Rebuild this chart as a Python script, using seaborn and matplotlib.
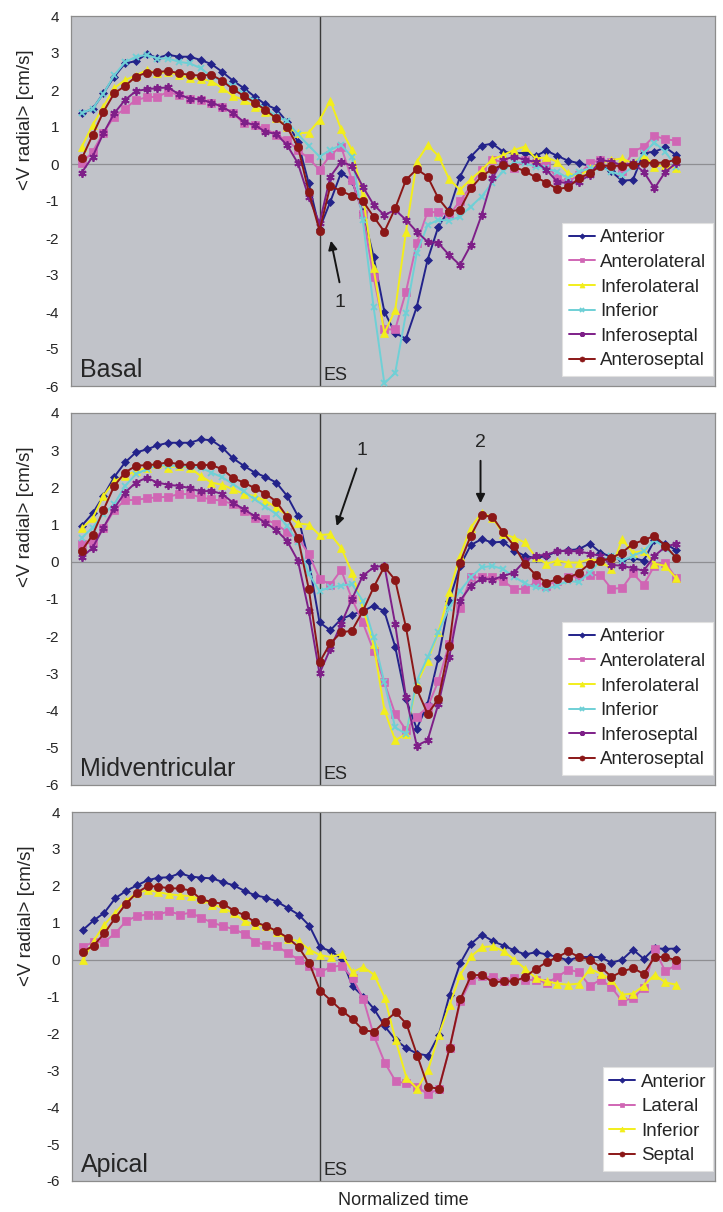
import numpy as np
import pandas as pd
import matplotlib
matplotlib.use("Agg")
import matplotlib.pyplot as plt
import seaborn as sns

# Datos (56 instantes de tiempo normalizado, ES en el indice 22)
time_idx = np.arange(56)
es_idx = 22

# --- Basal ---
basal_anterior = [1.37, 1.49, 1.91, 2.36, 2.72, 2.78, 2.97, 2.87, 2.95, 2.90, 2.90, 2.81, 2.70, 2.49, 2.25, 2.05, 1.82, 1.61, 1.48, 1.14, 0.60, -0.52,
                  -1.75, -1.02, -0.23, -0.45, -1.3, -2.5, -3.99, -4.57, -4.72, -3.86, -2.59, -1.69, -1.24, -0.34, 0.2,
                  0.5, 0.55, 0.33, 0.29, 0.30, 0.22, 0.36, 0.22, 0.09, 0.02, -0.05, -0.03, -0.2, -0.45, -0.43, 0.3, 0.33, 0.45, 0.24]
basal_anterolateral = [0.02, 0.33, 0.85, 1.28, 1.5, 1.73, 1.8, 1.82, 1.95, 1.86, 1.77, 1.73, 1.64, 1.55, 1.37, 1.1, 1.05, 0.96, 0.78, 0.65, 0.38, 0.15, -0.16,
                       0.24, 0.47, -0.43, -1.35, -3.05, -4.47, -4.47, -3.45, -2.14, -1.29, -1.31, -1.38, -1.0, -0.6, -0.16,
                       0.11, 0.06, -0.12, 0.11, 0.02, 0.0, -0.39, -0.48, -0.3, 0.02, 0.11, 0.06, -0.18, 0.33, 0.47, 0.76, 0.67, 0.63]
basal_inferolateral = [0.47, 1.05, 1.55, 2.05, 2.27, 2.39, 2.54, 2.45, 2.49, 2.41, 2.32, 2.30, 2.24, 2.05, 1.84, 1.73, 1.55, 1.41, 1.23, 1.01, 0.83, 0.85, 1.19,
                       1.71, 0.94, 0.38, -0.84, -2.82, -4.57, -3.95, -1.83, 0.06, 0.51, 0.22, -0.41, -0.7, -0.41,
                       -0.16, 0.13, 0.24, 0.38, 0.47, 0.15, 0.18, 0.06, -0.25, -0.34, -0.12, 0.02, 0.11, 0.15, 0.02, 0.24, -0.07, -0.03, -0.12]
basal_inferior = [1.37, 1.5, 1.9, 2.4, 2.75, 2.9, 2.95, 2.85, 2.85, 2.76, 2.72, 2.59, 2.36, 2.25, 2.1, 1.9, 1.7, 1.5, 1.3, 1.15, 0.8, 0.5, 0.2,
                  0.38, 0.51, 0.2, -1.51, -3.86, -5.93, -5.65, -4.04, -2.41, -1.65, -1.51, -1.53, -1.42, -1.15, -0.88,
                  -0.5, -0.2, 0.06, 0.02, -0.07, -0.12, -0.21, -0.39, -0.21, -0.12, -0.07, -0.21, -0.3, -0.07, 0.29, 0.58, 0.33, -0.07]
basal_inferoseptal = [-0.23, 0.2, 0.83, 1.37, 1.73, 1.97, 2.02, 2.05, 2.07, 1.88, 1.77, 1.75, 1.66, 1.55, 1.37, 1.14, 1.05, 0.87, 0.81, 0.51, 0.02, -0.9,
                      -1.6, -0.34, 0.06, -0.05, -0.61, -1.1, -1.38, -1.24, -1.51, -1.83, -2.1, -2.14, -2.46, -2.73, -2.19, -1.38,
                      -0.38, 0.11, 0.2, 0.11, 0.06, -0.16, -0.48, -0.52, -0.48, -0.3, 0.11, 0.06, -0.03, 0.02, -0.21, -0.66, -0.21, 0.02]
basal_anteroseptal = [0.15, 0.78, 1.41, 1.91, 2.11, 2.36, 2.47, 2.48, 2.52, 2.45, 2.41, 2.39, 2.41, 2.25, 2.02, 1.84, 1.66, 1.46, 1.23, 0.99, 0.47, -0.75, -1.8,
                      -0.59, -0.73, -0.86, -1.0, -1.42, -1.83, -1.2, -0.43, -0.14, -0.34, -0.93, -1.29, -1.23, -0.66,
                      -0.33, -0.14, -0.02, -0.08, -0.19, -0.36, -0.5, -0.68, -0.63, -0.39, -0.25, -0.05, -0.05, -0.05, -0.03, 0.03, 0.03, 0.04, 0.12]

# --- Midventricular ---
mid_anterior = [0.97, 1.3, 1.77, 2.28, 2.67, 2.94, 3.02, 3.13, 3.2, 3.2, 3.2, 3.29, 3.27, 3.07, 2.78, 2.58, 2.4, 2.28, 2.13, 1.77, 1.23, 0.03,
                -1.63, -1.84, -1.54, -1.42, -1.33, -1.18, -1.33, -2.28, -3.69, -4.49, -3.82, -2.59, -1.05, -0.11, 0.45,
                0.61, 0.52, 0.54, 0.3, 0.16, 0.1, 0.16, 0.28, 0.31, 0.34, 0.49, 0.25, 0.13, 0.06, 0.1, 0.03, 0.58, 0.49, 0.31]
mid_anterolateral = [0.47, 0.52, 0.9, 1.39, 1.66, 1.66, 1.71, 1.73, 1.75, 1.82, 1.82, 1.73, 1.68, 1.64, 1.55, 1.37, 1.19, 1.14, 1.01, 0.8, 0.65, 0.21, -0.45,
                     -0.62, -0.22, -1.0, -1.63, -2.39, -3.24, -4.09, -4.52, -4.16, -3.91, -3.2, -2.2, -1.23, -0.42,
                     -0.42, -0.42, -0.51, -0.73, -0.73, -0.55, -0.64, -0.51, -0.42, -0.38, -0.36, -0.35, -0.72, -0.71, -0.31, -0.62, -0.1, -0.02, -0.44]
mid_inferolateral = [0.9, 1.17, 1.77, 2.17, 2.31, 2.44, 2.53, 2.62, 2.53, 2.58, 2.53, 2.31, 2.13, 2.07, 1.95, 1.82, 1.77, 1.64, 1.46, 1.25, 1.03, 1.0, 0.72,
                     0.74, 0.38, -0.29, -1.23, -2.21, -3.98, -4.8, -4.63, -3.28, -2.66, -1.9, -0.82, 0.16, 0.92,
                     1.32, 1.19, 0.75, 0.65, 0.52, 0.13, -0.05, 0.03, -0.02, -0.02, 0.07, 0.03, -0.2, 0.6, 0.25, 0.29, -0.05, -0.11, -0.44]
mid_inferior = [0.65, 0.92, 1.28, 1.55, 2.04, 2.35, 2.49, 2.6, 2.58, 2.58, 2.55, 2.53, 2.4, 2.27, 2.09, 1.89, 1.68, 1.48, 1.28, 0.97, 0.52, -0.33, -0.78,
                -0.69, -0.64, -0.6, -1.05, -2.03, -3.24, -4.45, -4.63, -3.2, -2.57, -1.9, -1.23, -0.78, -0.42,
                -0.15, -0.11, -0.2, -0.4, -0.58, -0.69, -0.73, -0.64, -0.51, -0.55, -0.29, 0.03, 0.16, 0.03, 0.16, 0.29, 0.58, 0.38, 0.11]
mid_inferoseptal = [0.12, 0.38, 0.92, 1.44, 1.86, 2.13, 2.26, 2.13, 2.07, 2.04, 1.98, 1.89, 1.91, 1.82, 1.59, 1.41, 1.23, 1.05, 0.85, 0.56, 0.03, -1.31, -3.0,
                    -2.34, -1.67, -1.0, -0.38, -0.15, -0.1, -1.67, -3.64, -4.94, -4.8, -3.82, -2.57, -1.05, -0.65,
                    -0.45, -0.48, -0.38, -0.29, 0.03, 0.16, 0.19, 0.29, 0.29, 0.28, 0.22, 0.16, -0.08, -0.11, -0.17, -0.24, 0.16, 0.4, 0.49]
mid_anteroseptal = [0.3, 0.72, 1.39, 2.04, 2.4, 2.58, 2.6, 2.62, 2.68, 2.62, 2.6, 2.6, 2.6, 2.49, 2.25, 2.13, 1.98, 1.83, 1.62, 1.21, 0.65, -0.72, -2.7,
                    -2.19, -1.9, -1.85, -1.33, -0.69, -0.13, -0.49, -1.76, -3.42, -4.09, -3.69, -2.25, -0.02, 0.7,
                    1.25, 1.21, 0.79, 0.43, -0.05, -0.35, -0.56, -0.47, -0.44, -0.29, -0.05, 0.03, 0.1, 0.25, 0.48, 0.58, 0.7, 0.43, 0.11]

# --- Apical ---
apical_anterior = [0.8, 1.06, 1.27, 1.66, 1.86, 2.01, 2.15, 2.22, 2.23, 2.34, 2.25, 2.22, 2.2, 2.1, 2.01, 1.86, 1.74, 1.68, 1.57, 1.4, 1.22, 0.92, 0.33,
                   0.23, 0.02, -0.72, -1.0, -1.34, -1.81, -2.18, -2.4, -2.55, -2.6, -2.04, -0.95, -0.09, 0.43,
                   0.68, 0.5, 0.38, 0.25, 0.14, 0.2, 0.14, 0.07, -0.02, 0.07, 0.07, 0.07, -0.09, 0.0, 0.27, 0.02, 0.31, 0.29, 0.3]
apical_lateral = [0.34, 0.48, 0.48, 0.71, 1.04, 1.18, 1.22, 1.22, 1.31, 1.22, 1.27, 1.13, 1.0, 0.91, 0.82, 0.7, 0.48, 0.39, 0.36, 0.18, 0.0, -0.16, -0.34,
                  -0.2, -0.16, -0.5, -1.06, -2.08, -2.8, -3.3, -3.35, -3.45, -3.65, -3.5, -2.4, -1.13, -0.54,
                  -0.45, -0.48, -0.59, -0.5, -0.56, -0.54, -0.63, -0.47, -0.27, -0.34, -0.72, -0.54, -0.75, -1.13, -1.04, -0.77, 0.28, -0.32, -0.14]
apical_inferior = [-0.02, 0.5, 0.95, 1.27, 1.59, 1.81, 1.88, 1.83, 1.77, 1.74, 1.72, 1.63, 1.49, 1.4, 1.25, 1.04, 0.95, 0.91, 0.75, 0.56, 0.5, 0.27, 0.12,
                   0.07, 0.15, -0.34, -0.2, -0.41, -1.04, -2.19, -3.2, -3.5, -3.0, -2.04, -1.22, -0.41, 0.09,
                   0.34, 0.36, 0.23, 0.0, -0.25, -0.5, -0.59, -0.65, -0.68, -0.65, -0.25, -0.38, -0.54, -0.95, -0.92, -0.71, -0.41, -0.62, -0.68]
apical_septal = [0.21, 0.38, 0.71, 1.13, 1.51, 1.81, 1.99, 1.98, 1.93, 1.93, 1.87, 1.63, 1.56, 1.51, 1.33, 1.2, 1.01, 0.91, 0.77, 0.59, 0.34, -0.1, -0.84,
                 -1.11, -1.38, -1.61, -1.92, -1.95, -1.68, -1.43, -1.74, -2.6, -3.45, -3.5, -2.4, -1.07, -0.43,
                 -0.41, -0.62, -0.59, -0.59, -0.47, -0.25, -0.07, 0.07, 0.22, 0.07, 0.0, -0.2, -0.47, -0.32, -0.23, -0.39, 0.07, 0.07, -0.02]

# estilos: (color, marcador, tamano)
AZUL = ("#23238a", "D", 4.5)
ROSA = ("#d066b4", "s", 5.5)
AMARILLO = ("#f2ee1c", "^", 6)
CIAN = ("#6fd0d6", "x", 4.5)
MORADO = ("#7e1f88", (6, 2, 0), 6)
GRANATE = ("#8b1717", "o", 6)

paneles = [
    ("Basal", [("Anterior", basal_anterior, AZUL), ("Anterolateral", basal_anterolateral, ROSA),
               ("Inferolateral", basal_inferolateral, AMARILLO), ("Inferior", basal_inferior, CIAN),
               ("Inferoseptal", basal_inferoseptal, MORADO), ("Anteroseptal", basal_anteroseptal, GRANATE)]),
    ("Midventricular", [("Anterior", mid_anterior, AZUL), ("Anterolateral", mid_anterolateral, ROSA),
                        ("Inferolateral", mid_inferolateral, AMARILLO), ("Inferior", mid_inferior, CIAN),
                        ("Inferoseptal", mid_inferoseptal, MORADO), ("Anteroseptal", mid_anteroseptal, GRANATE)]),
    ("Apical", [("Anterior", apical_anterior, AZUL), ("Lateral", apical_lateral, ROSA),
                ("Inferior", apical_inferior, AMARILLO), ("Septal", apical_septal, GRANATE)]),
]

sns.set_style("white")
plt.rcParams['font.family'] = ['Liberation Sans', 'DejaVu Sans']
plt.rcParams['axes.unicode_minus'] = False

fig = plt.figure(figsize=(7.23, 12.12), dpi=100)
posiciones = [
    [71 / 723, 1 - 386 / 1212, 644 / 723, 370 / 1212],
    [71 / 723, 1 - 785 / 1212, 644 / 723, 372 / 1212],
    [72 / 723, 1 - 1181 / 1212, 643 / 723, 369 / 1212],
]

axes = []
for (nombre, series), pos in zip(paneles, posiciones):
    ax = fig.add_axes(pos)
    axes.append(ax)
    ax.set_facecolor("#c1c3c9")
    ax.axhline(0, color="#8e8e92", lw=0.9, zorder=1)
    ax.axvline(es_idx, color="#3a3a3a", lw=1.0, zorder=1)

    for seg, vals, (color, marker, ms) in series:
        mew = 1.3 if marker == "x" or isinstance(marker, tuple) else 0.5
        sns.lineplot(x=time_idx, y=vals, ax=ax, color=color, marker=marker, markersize=ms,
                     markeredgecolor=color, markeredgewidth=mew, lw=1.4, label=seg, zorder=3)

    ax.set_xlim(-1, 58.6)
    ax.set_ylim(-6, 4)
    ax.set_xticks([])
    ax.set_yticks(range(-6, 5))
    ax.tick_params(axis="y", length=4.5, width=0.8, color="#8c8c8c", labelsize=11, pad=4)
    for sp in ax.spines.values():
        sp.set_color("#8c8c8c")
        sp.set_linewidth(0.9)

    ax.set_ylabel("<V radial> [cm/s]", fontsize=13.5)
    ax.yaxis.set_label_coords(-0.058, 0.72)
    ax.set_xlabel("")

    ax.text(0.014, 0.012, nombre, transform=ax.transAxes, fontsize=18, ha="left", va="bottom")
    ax.text(es_idx + 0.35, -5.95, "ES", fontsize=13, ha="left", va="bottom")

    leg = ax.legend(loc="lower right", bbox_to_anchor=(0.997, 0.027), borderaxespad=0,
                    fontsize=13.5, frameon=True, fancybox=False, framealpha=1,
                    handlelength=1.4, handletextpad=0.3, labelspacing=0.4, markerscale=0.6,
                    borderpad=0.35)
    leg.get_frame().set_edgecolor("#e0e0e0")
    leg.get_frame().set_linewidth(0.8)

# flechas
flecha = dict(arrowstyle="-|>", color="#151515", lw=1.4, mutation_scale=13)
axes[0].annotate("", xy=(23.0, -2.0), xytext=(23.9, -3.27), arrowprops=flecha, zorder=5)
axes[0].text(23.9, -3.73, "1", fontsize=14, ha="center", va="center")
axes[1].annotate("", xy=(23.5, 0.89), xytext=(25.5, 2.58), arrowprops=flecha, zorder=5)
axes[1].text(25.9, 2.98, "1", fontsize=14, ha="center", va="center")
axes[1].annotate("", xy=(36.9, 1.5), xytext=(36.9, 2.79), arrowprops=flecha, zorder=5)
axes[1].text(36.9, 3.2, "2", fontsize=14, ha="center", va="center")

axes[2].set_xlabel("Normalized time", fontsize=13)
axes[2].xaxis.set_label_coords(0.515, -0.03)

fig.savefig("out.png", dpi=100)
